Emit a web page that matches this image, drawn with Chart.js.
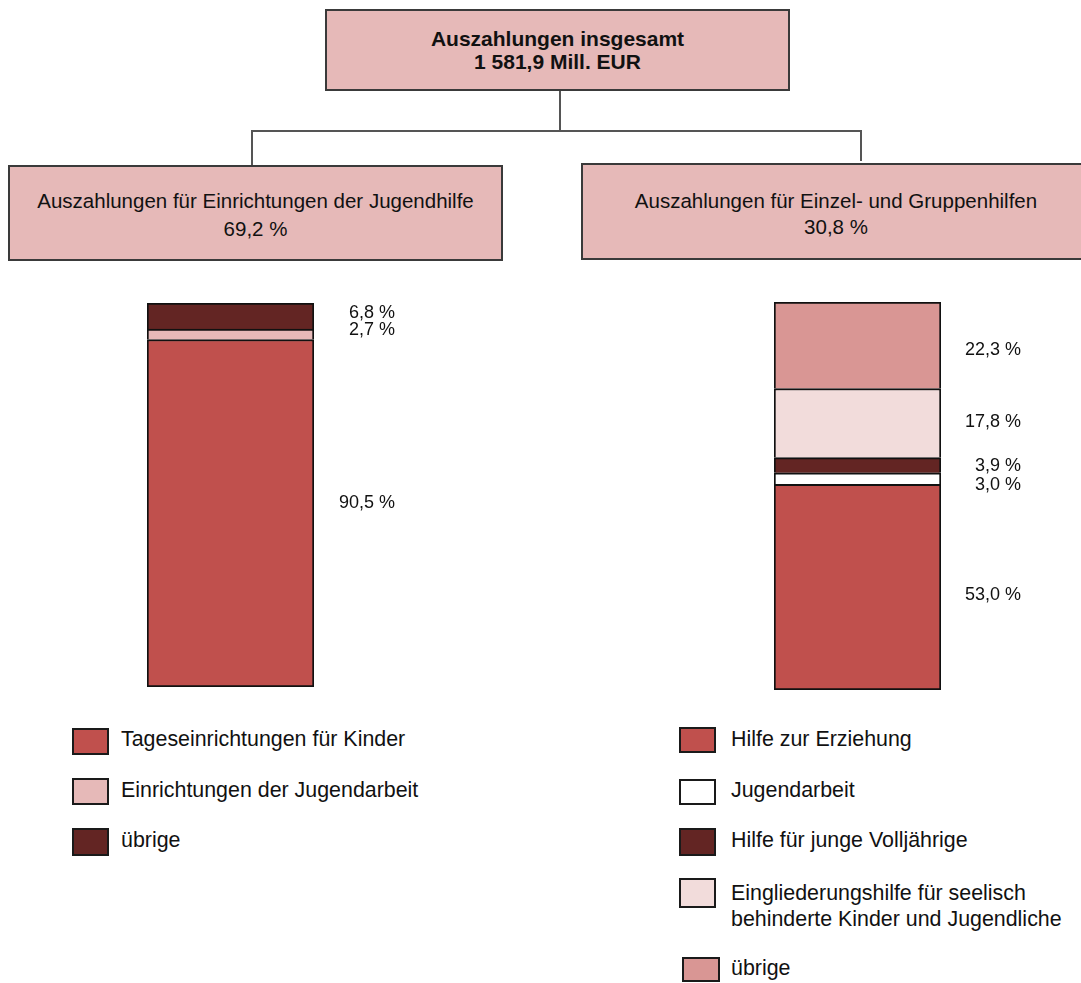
<!DOCTYPE html>
<html>
<head>
<meta charset="utf-8">
<script src="https://cdn.jsdelivr.net/npm/chart.js@4/dist/chart.umd.min.js"></script>
<style>
  html, body { margin:0; padding:0; background:#fff; }
  #page { position:relative; width:1081px; height:983px; overflow:hidden; background:#fff;
          font-family:"Liberation Sans", Arial, Helvetica, sans-serif; color:#111; }
  .box { position:absolute; box-sizing:border-box; border:2px solid #3a3a3a; background:#E6B9B8; }
  .line { position:absolute; background:#555; }
  .txt { position:absolute; white-space:nowrap; line-height:1; }
  .sq { position:absolute; box-sizing:border-box; border:2px solid #1a1a1a; }
  canvas { position:absolute; }
</style>
</head>
<body>
<div id="page">
  <div class="box" style="left:325px;top:9px;width:465px;height:82px;"></div>
  <div class="box" style="left:8px;top:165px;width:495px;height:96px;"></div>
  <div class="box" style="left:581px;top:163px;width:510px;height:97px;"></div>

  <div class="line" style="left:559px;top:91px;width:2px;height:41px;"></div>
  <div class="line" style="left:251px;top:130px;width:611px;height:2px;"></div>
  <div class="line" style="left:251px;top:130px;width:2px;height:35px;"></div>
  <div class="line" style="left:860px;top:130px;width:2px;height:31px;"></div>

  <div class="txt" style="left:325px;width:465px;text-align:center;top:28.2px;font-size:21px;font-weight:bold;">Auszahlungen insgesamt</div>
  <div class="txt" style="left:325px;width:465px;text-align:center;top:51.2px;font-size:21px;font-weight:bold;">1 581,9 Mill. EUR</div>

  <div class="txt" style="left:8px;width:495px;text-align:center;top:190.6px;font-size:20.5px;">Auszahlungen für Einrichtungen der Jugendhilfe</div>
  <div class="txt" style="left:8px;width:495px;text-align:center;top:218.6px;font-size:20.5px;">69,2 %</div>

  <div class="txt" style="left:581px;width:510px;text-align:center;top:190.6px;font-size:20.5px;">Auszahlungen für Einzel- und Gruppenhilfen</div>
  <div class="txt" style="left:581px;width:510px;text-align:center;top:216.6px;font-size:20.5px;">30,8 %</div>

  <canvas id="leftChart" width="261" height="384" style="left:147px;top:303px;"></canvas>
  <canvas id="rightChart" width="261" height="388" style="left:774px;top:302px;"></canvas>

  <div id="legends"></div>
</div>

<script>
// ---------- data ----------
const leftCategories = ['Einrichtungen der Jugendhilfe'];
const leftSeries = ['Tageseinrichtungen für Kinder', 'Einrichtungen der Jugendarbeit', 'übrige'];
const leftValues = [90.5, 2.7, 6.8];

const rightCategories = ['Einzel- und Gruppenhilfen'];
const rightSeries = ['Hilfe zur Erziehung', 'Jugendarbeit', 'Hilfe für junge Volljährige',
  'Eingliederungshilfe für seelisch\nbehinderte Kinder und Jugendliche', 'übrige'];
const rightValues = [53.0, 3.0, 3.9, 17.8, 22.3];

// ---------- styles ----------
const leftColors = ['#C0504D', '#E6B9B8', '#632523'];
const rightColors = ['#C0504D', '#FFFFFF', '#632523', '#F2DCDB', '#D99694'];

// ---------- layout ----------
const leftLabelNudge = [-12, -6, -5];
const rightLabelNudge = [6, 5, -1, -3, 3.5];
const legendFont = 21.4;
const leftLegendRows = [
  {sq:[72, 727.7, 37, 27], txt:[121, 729.4]},
  {sq:[72, 778.3, 37, 27], txt:[121, 780.4]},
  {sq:[72, 828.3, 37, 28], txt:[121, 830.4]}
];
const rightLegendRows = [
  {sq:[679, 726.7, 37, 26], txt:[731, 728.9]},
  {sq:[679, 779, 37, 26], txt:[731, 780.4]},
  {sq:[679, 828.3, 37, 28], txt:[731, 830.4]},
  {sq:[679, 878.3, 37, 29.5], txt:[731, 883.4], lh:25.7},
  {sq:[682, 956.7, 38, 25], txt:[731, 958.4]}
];

const fmt = v => v.toFixed(1).replace('.', ',') + ' %';

const valueLabelPlugin = {
  id: 'valueLabels',
  afterDatasetsDraw(chart, args, opts) {
    const ctx = chart.ctx;
    ctx.save();
    ctx.font = '18px "Liberation Sans", Arial, sans-serif';
    ctx.fillStyle = '#111';
    ctx.textAlign = 'right';
    ctx.textBaseline = 'alphabetic';
    chart.data.datasets.forEach((ds, i) => {
      const el = chart.getDatasetMeta(i).data[0];
      const cy = (el.y + el.base) / 2 + opts.nudges[i];
      ctx.fillText(fmt(ds.data[0]), opts.x, cy + 6.5);
    });
    ctx.restore();
  }
};

function makeChart(id, categories, series, values, colors, nudges, labelX, barWidth) {
  const canvas = document.getElementById(id);
  return new Chart(canvas, {
    type: 'bar',
    data: {
      labels: categories,
      datasets: series.map((s, i) => ({
        label: s,
        data: [values[i]],
        backgroundColor: colors[i],
        borderColor: '#111',
        borderWidth: {top: 2, left: 2, right: 2, bottom: i === 0 ? 2 : 0},
        borderSkipped: false,
        barPercentage: 1,
        categoryPercentage: 1
      }))
    },
    options: {
      responsive: false,
      animation: false,
      events: [],
      layout: { padding: { left: 0, top: 0, bottom: 0, right: canvas.width - barWidth } },
      scales: {
        x: { stacked: true, display: false },
        y: { stacked: true, display: false, min: 0, max: 100 }
      },
      plugins: {
        legend: { display: false },
        tooltip: { enabled: false },
        valueLabels: { nudges: nudges, x: labelX }
      }
    },
    plugins: [valueLabelPlugin]
  });
}

makeChart('leftChart', leftCategories, leftSeries, leftValues, leftColors, leftLabelNudge, 248, 167);
makeChart('rightChart', rightCategories, rightSeries, rightValues, rightColors, rightLabelNudge, 247, 167);

function makeLegend(series, colors, rows) {
  const host = document.getElementById('legends');
  series.forEach((s, i) => {
    const r = rows[i];
    const sq = document.createElement('div');
    sq.className = 'sq';
    sq.style.cssText = `left:${r.sq[0]}px;top:${r.sq[1]}px;width:${r.sq[2]}px;height:${r.sq[3]}px;background:${colors[i]};`;
    host.appendChild(sq);
    s.split('\n').forEach((ln, k) => {
      const t = document.createElement('div');
      t.className = 'txt';
      t.style.cssText = `left:${r.txt[0]}px;top:${r.txt[1] + k * (r.lh || 0)}px;font-size:${legendFont}px;`;
      t.textContent = ln;
      host.appendChild(t);
    });
  });
}
makeLegend(leftSeries, leftColors, leftLegendRows);
makeLegend(rightSeries, rightColors, rightLegendRows);
</script>
</body>
</html>
